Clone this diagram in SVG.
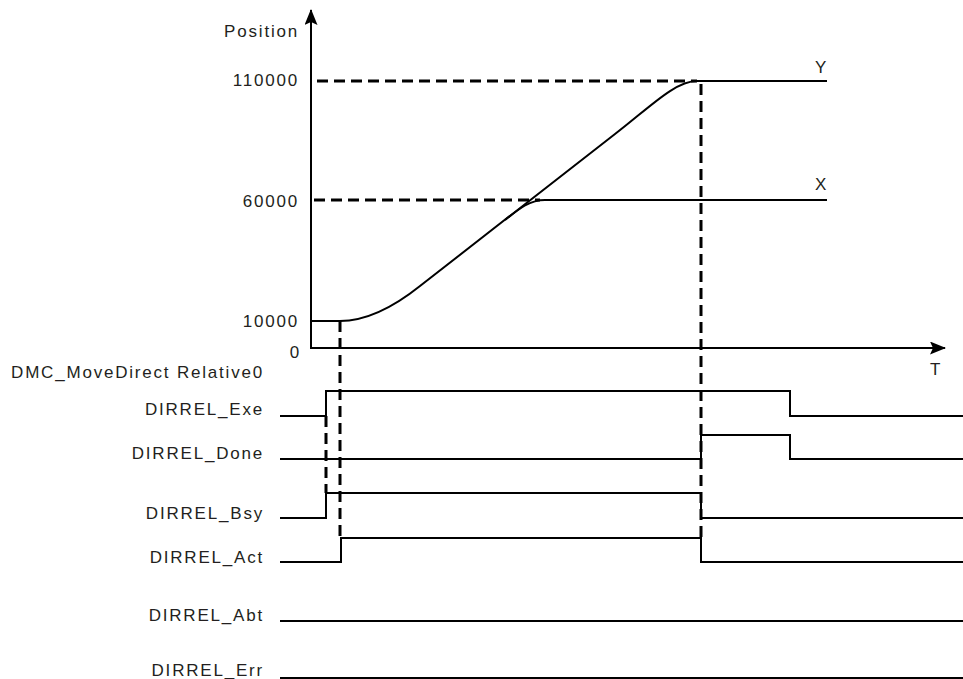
<svg xmlns="http://www.w3.org/2000/svg" width="963" height="679" viewBox="0 0 963 679">
<style>
text{font-family:"Liberation Sans",Arial,sans-serif;font-size:17px;fill:#231f20;letter-spacing:1.8px}
.r{text-anchor:end}
.s{fill:none;stroke:#000;stroke-width:2}
.d{fill:none;stroke:#000;stroke-width:3;stroke-dasharray:11 6}
</style>
<defs>
<marker id="ah" viewBox="0 0 16 13" refX="15" refY="6.5" markerWidth="16" markerHeight="13" markerUnits="userSpaceOnUse" orient="auto">
<path d="M0,0 L16,6.5 L0,13 L3,6.5 Z" fill="#000"/>
</marker>
</defs>
<rect width="963" height="679" fill="#fff"/>
<g id="axes">
<line class="s" x1="311" y1="349" x2="311" y2="10" marker-end="url(#ah)" stroke-width="2.5"/>
<line class="s" x1="310" y1="348" x2="945" y2="348" marker-end="url(#ah)" stroke-width="3"/>
<text class="r" x="299" y="37">Position</text>
<text class="r" x="299" y="86">110000</text>
<text class="r" x="299" y="207">60000</text>
<text class="r" x="299" y="327">10000</text>
<text class="r" x="301" y="358">0</text>
<text x="930" y="375">T</text>
</g>
<g id="connectors">
<line class="d" x1="317" y1="81" x2="697" y2="81"/>
<line class="d" x1="314" y1="200" x2="540" y2="200"/>
<line class="d" x1="701" y1="84" x2="701" y2="538"/>
<line class="d" x1="326" y1="416" x2="326" y2="493"/>
<line class="d" x1="340" y1="321" x2="340" y2="538"/>
</g>
<g id="curve-Y">
<path class="s" d="M311,321 L340,321 C368,321 395,306 420,286 L615,134 C650,107 675,81 697,81 L827,81"/>
<text x="815" y="73">Y</text>
</g>
<g id="curve-X">
<path class="s" d="M505,220 C520,208 530,200 545,200 L827,200"/>
<text x="815" y="190">X</text>
</g>
<g id="fb-label">
<text class="r" x="264" y="378">DMC_MoveDirect Relative0</text>
</g>
<g id="sig-exe">
<text class="r" x="264" y="415">DIRREL_Exe</text>
<path class="s" d="M280,416 H326 V391 H790 V416 H963"/>
</g>
<g id="sig-done">
<text class="r" x="264" y="459">DIRREL_Done</text>
<path class="s" d="M280,459 H701 V435 H790 V459 H963"/>
</g>
<g id="sig-bsy">
<text class="r" x="264" y="519">DIRREL_Bsy</text>
<path class="s" d="M280,518 H326 V493 H701 V518 H963"/>
</g>
<g id="sig-act">
<text class="r" x="264" y="563">DIRREL_Act</text>
<path class="s" d="M280,562 H341 V538 H701 V562 H963"/>
</g>
<g id="sig-abt">
<text class="r" x="264" y="621">DIRREL_Abt</text>
<path class="s" d="M280,621 H963"/>
</g>
<g id="sig-err">
<text class="r" x="264" y="676">DIRREL_Err</text>
<path class="s" d="M280,678 H963"/>
</g>
</svg>
